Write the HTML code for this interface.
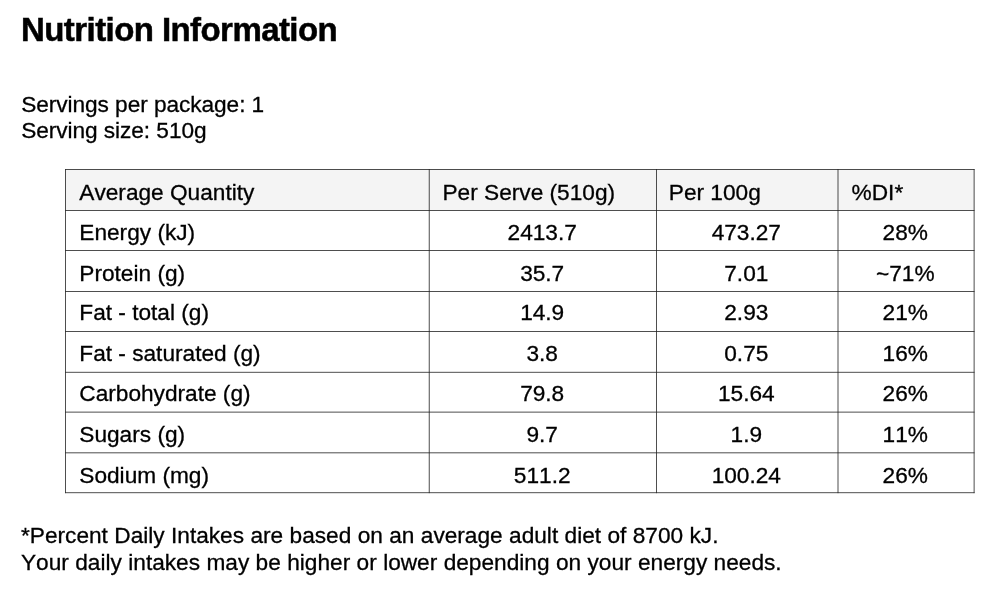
<!DOCTYPE html>
<html>
<head>
<meta charset="utf-8">
<title>Nutrition Information</title>
<style>
html,body{margin:0;padding:0;background:#fff;}
body{width:1000px;height:599px;position:relative;overflow:hidden;font-family:"Liberation Sans",sans-serif;color:#000;font-size:22.67px;font-kerning:none;}
.t{-webkit-text-stroke:0.3px #000;position:absolute;white-space:nowrap;line-height:26px;font-size:22.67px;}
.c{text-align:center;}
h1{-webkit-text-stroke:0.5px #000;position:absolute;margin:0;left:21px;font-size:33px;letter-spacing:-0.57px;line-height:37px;font-weight:bold;white-space:nowrap;}
svg{position:absolute;left:0;top:0;}
#w{position:absolute;left:0;top:0;width:1000px;height:599px;will-change:transform;}
</style>
</head>
<body>
<svg width="1000" height="599" viewBox="0 0 1000 599">
<rect x="65.15" y="169.05" width="909.35" height="40.95" fill="#f4f4f4"/>
<rect x="65.15" y="169.05" width="909.35" height="0.80" fill="#222"/>
<rect x="65.15" y="210.00" width="909.35" height="0.80" fill="#222"/>
<rect x="65.15" y="250.00" width="909.35" height="0.80" fill="#222"/>
<rect x="65.15" y="291.05" width="909.35" height="0.80" fill="#222"/>
<rect x="65.15" y="331.00" width="909.35" height="0.80" fill="#222"/>
<rect x="65.15" y="371.85" width="909.35" height="0.80" fill="#222"/>
<rect x="65.15" y="411.70" width="909.35" height="0.80" fill="#222"/>
<rect x="65.15" y="452.45" width="909.35" height="0.80" fill="#222"/>
<rect x="65.15" y="492.35" width="909.35" height="0.80" fill="#222"/>
<rect x="65.15" y="169.05" width="0.80" height="324.10" fill="#222"/>
<rect x="428.80" y="169.05" width="0.80" height="324.10" fill="#222"/>
<rect x="656.00" y="169.05" width="0.80" height="324.10" fill="#222"/>
<rect x="837.60" y="169.05" width="0.80" height="324.10" fill="#222"/>
<rect x="973.70" y="169.05" width="0.80" height="324.10" fill="#222"/>
</svg>
<div id="w">
<h1 style="top:11.00px">Nutrition Information</h1>
<div class="t" style="left:21.2px;letter-spacing:-0.06px;top:91.00px">Servings per package: 1</div>
<div class="t" style="left:21.2px;letter-spacing:-0.06px;top:117.00px">Serving size: 510g</div>
<div class="t" style="left:79.30px;top:179.00px">Average Quantity</div>
<div class="t" style="left:442.50px;top:179.00px">Per Serve (510g)</div>
<div class="t" style="left:668.80px;top:179.00px">Per 100g</div>
<div class="t" style="left:851.60px;top:179.00px">%DI*</div>
<div class="t" style="left:79.30px;top:219.00px">Energy (kJ)</div>
<div class="t c" style="left:442.20px;width:200px;top:219.00px">2413.7</div>
<div class="t c" style="left:646.30px;width:200px;top:219.00px">473.27</div>
<div class="t c" style="left:805.30px;width:200px;top:219.00px">28%</div>
<div class="t" style="left:79.30px;top:260.00px">Protein (g)</div>
<div class="t c" style="left:442.20px;width:200px;top:260.00px">35.7</div>
<div class="t c" style="left:646.30px;width:200px;top:260.00px">7.01</div>
<div class="t c" style="left:805.30px;width:200px;top:260.00px">~71%</div>
<div class="t" style="left:79.30px;top:299.00px">Fat - total (g)</div>
<div class="t c" style="left:442.20px;width:200px;top:299.00px">14.9</div>
<div class="t c" style="left:646.30px;width:200px;top:299.00px">2.93</div>
<div class="t c" style="left:805.30px;width:200px;top:299.00px">21%</div>
<div class="t" style="left:79.30px;top:340.00px">Fat - saturated (g)</div>
<div class="t c" style="left:442.20px;width:200px;top:340.00px">3.8</div>
<div class="t c" style="left:646.30px;width:200px;top:340.00px">0.75</div>
<div class="t c" style="left:805.30px;width:200px;top:340.00px">16%</div>
<div class="t" style="left:79.30px;top:380.00px">Carbohydrate (g)</div>
<div class="t c" style="left:442.20px;width:200px;top:380.00px">79.8</div>
<div class="t c" style="left:646.30px;width:200px;top:380.00px">15.64</div>
<div class="t c" style="left:805.30px;width:200px;top:380.00px">26%</div>
<div class="t" style="left:79.30px;top:421.00px">Sugars (g)</div>
<div class="t c" style="left:442.20px;width:200px;top:421.00px">9.7</div>
<div class="t c" style="left:646.30px;width:200px;top:421.00px">1.9</div>
<div class="t c" style="left:805.30px;width:200px;top:421.00px">11%</div>
<div class="t" style="left:79.30px;top:462.00px">Sodium (mg)</div>
<div class="t c" style="left:442.20px;width:200px;top:462.00px">511.2</div>
<div class="t c" style="left:646.30px;width:200px;top:462.00px">100.24</div>
<div class="t c" style="left:805.30px;width:200px;top:462.00px">26%</div>
<div class="t" style="left:21px;word-spacing:0.08px;top:522.00px">*Percent Daily Intakes are based on an average adult diet of 8700 kJ.</div>
<div class="t" style="left:21px;word-spacing:0.1px;top:549.00px">Your daily intakes may be higher or lower depending on your energy needs.</div>
</div>
</body>
</html>
